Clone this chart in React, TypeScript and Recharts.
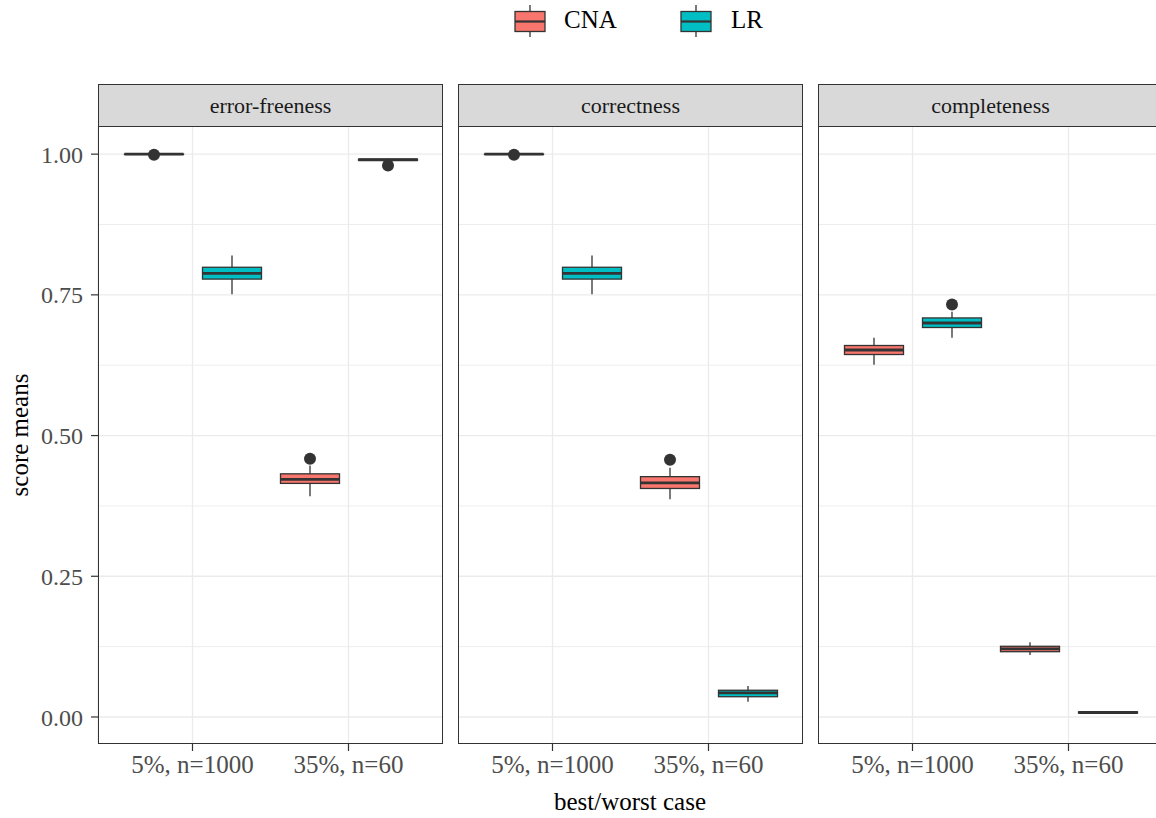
import React from "react";
import { ComposedChart, Bar, XAxis, YAxis, CartesianGrid } from "recharts";

const categories = ["5%, n=1000", "35%, n=60"];
const facets = ["error-freeness", "correctness", "completeness"];
const yTicks = [0, 0.25, 0.5, 0.75, 1];
const yMinorTicks = [0.125, 0.375, 0.625, 0.875];

// each box: [lower whisker, q1, median, q3, upper whisker], one per category
const cnaErrorFreeness = [
  [0.999, 0.9995, 1.0, 1.0, 1.0],
  [0.392, 0.415, 0.422, 0.432, 0.447],
];
const cnaErrorFreenessOut = [[0.999], [0.459]];
const lrErrorFreeness = [
  [0.751, 0.778, 0.788, 0.799, 0.82],
  [0.988, 0.989, 0.99, 0.991, 0.992],
];
const lrErrorFreenessOut = [[], [0.98]];

const cnaCorrectness = [
  [0.999, 0.9995, 1.0, 1.0, 1.0],
  [0.387, 0.406, 0.416, 0.427, 0.443],
];
const cnaCorrectnessOut = [[0.999], [0.457]];
const lrCorrectness = [
  [0.751, 0.778, 0.788, 0.799, 0.82],
  [0.027, 0.036, 0.043, 0.0475, 0.055],
];
const lrCorrectnessOut = [[], []];

const cnaCompleteness = [
  [0.626, 0.644, 0.652, 0.66, 0.674],
  [0.11, 0.116, 0.121, 0.1256, 0.133],
];
const cnaCompletenessOut = [[], []];
const lrCompleteness = [
  [0.674, 0.692, 0.7, 0.709, 0.72],
  [0.006, 0.007, 0.008, 0.009, 0.01],
];
const lrCompletenessOut = [[0.733], []];

const Y_MIN = -0.048;
const Y_MAX = 1.05;
const CNA_COLOR = "#F8766D";
const LR_COLOR = "#00BFC4";
const FONT = "'Liberation Serif', 'DejaVu Serif', serif";

type Stats = number[];
type Row = { category: string; cna: Stats; cnaOut: number[]; lr: Stats; lrOut: number[] };

function buildRows(cna: Stats[], cnaOut: number[][], lr: Stats[], lrOut: number[][]): Row[] {
  return categories.map((c, i) => ({ category: c, cna: cna[i], cnaOut: cnaOut[i], lr: lr[i], lrOut: lrOut[i] }));
}

const panels = [
  buildRows(cnaErrorFreeness, cnaErrorFreenessOut, lrErrorFreeness, lrErrorFreenessOut),
  buildRows(cnaCorrectness, cnaCorrectnessOut, lrCorrectness, lrCorrectnessOut),
  buildRows(cnaCompleteness, cnaCompletenessOut, lrCompleteness, lrCompletenessOut),
];

// the bar spans the whole y domain, so its geometry gives the y scale for the box
function BoxShape(props: any) {
  const { x, y, width, height, payload, series, color } = props;
  if (!payload) return null;
  const [lo, q1, med, q3, hi] = payload[series] as Stats;
  const outs: number[] = payload[series + "Out"] || [];
  const top = Math.min(y, y + height);
  const h = Math.abs(height);
  const py = (v: number) => top + ((Y_MAX - v) / (Y_MAX - Y_MIN)) * h;
  const cx = x + width / 2;
  return (
    <g>
      <line x1={cx} x2={cx} y1={py(hi)} y2={py(lo)} stroke="#333333" strokeWidth={1.3} />
      <rect
        x={x}
        y={py(q3)}
        width={width}
        height={Math.max(py(q1) - py(q3), 0)}
        fill={color}
        stroke="#333333"
        strokeWidth={1.3}
      />
      <line x1={x} x2={x + width} y1={py(med)} y2={py(med)} stroke="#333333" strokeWidth={2.8} />
      {outs.map((o, i) => (
        <circle key={i} cx={cx} cy={py(o)} r={6} fill="#333333" />
      ))}
    </g>
  );
}

const PANEL_W = 345;
const PLOT_H = 618;
const PLOT_TOP = 126;
const panelLefts = [98, 458, 818];

function Panel({ rows, index }: { rows: Row[]; index: number }) {
  const first = index === 0;
  const yw = first ? 98 : 0;
  return (
    <div style={{ position: "absolute", left: panelLefts[index] - yw, top: PLOT_TOP }}>
      <ComposedChart
        width={PANEL_W + yw}
        height={PLOT_H + 60}
        data={rows}
        margin={{ top: 0, right: 0, bottom: 0, left: 0 }}
        barGap={19}
      >
        <CartesianGrid
          horizontalValues={yMinorTicks}
          vertical={false}
          stroke="#EBEBEB"
          strokeWidth={0.9}
        />
        <CartesianGrid horizontalValues={yTicks} stroke="#EBEBEB" strokeWidth={1.3} />
        <XAxis
          dataKey="category"
          type="category"
          height={60}
          padding={{ left: 16.5, right: 16.5 }}
          axisLine={false}
          tickLine={{ stroke: "#333333", strokeWidth: 1.2 }}
          tickSize={7}
          tickMargin={4}
          tick={{ fontSize: 25, fill: "#4D4D4D", fontFamily: FONT }}
          interval={0}
        />
        <YAxis
          type="number"
          domain={[Y_MIN, Y_MAX]}
          ticks={yTicks}
          allowDataOverflow
          hide={!first}
          width={yw}
          axisLine={false}
          tickLine={{ stroke: "#333333", strokeWidth: 1.2 }}
          tickSize={7}
          tickMargin={8}
          tickFormatter={(v: number) => v.toFixed(2)}
          tick={{ fontSize: 24, fill: "#4D4D4D", fontFamily: FONT }}
        />
        <Bar
          dataKey={() => [Y_MIN, Y_MAX]}
          barSize={59}
          isAnimationActive={false}
          shape={(p: any) => <BoxShape {...p} series="cna" color={CNA_COLOR} />}
        />
        <Bar
          dataKey={() => [Y_MIN, Y_MAX]}
          barSize={59}
          isAnimationActive={false}
          shape={(p: any) => <BoxShape {...p} series="lr" color={LR_COLOR} />}
        />
      </ComposedChart>
      <div
        style={{
          position: "absolute",
          left: yw,
          top: 0,
          width: PANEL_W,
          height: PLOT_H,
          border: "1px solid #333333",
          boxSizing: "border-box",
          pointerEvents: "none",
        }}
      />
    </div>
  );
}

function LegendKey({ color }: { color: string }) {
  return (
    <svg width={32} height={36} style={{ display: "block" }}>
      <line x1={16} x2={16} y1={4} y2={36} stroke="#333333" strokeWidth={1.3} />
      <rect x={1} y={10.5} width={30} height={20} fill={color} stroke="#333333" strokeWidth={1.3} />
      <line x1={1} x2={31} y1={20.5} y2={20.5} stroke="#333333" strokeWidth={2.2} />
    </svg>
  );
}

export default function App() {
  return (
    <div
      style={{
        position: "fixed",
        left: 0,
        top: 0,
        width: 1156,
        height: 818,
        overflow: "hidden",
        background: "#FFFFFF",
        fontFamily: FONT,
      }}
    >
      {/* legend */}
      <div style={{ position: "absolute", left: 514, top: 1 }}>
        <LegendKey color={CNA_COLOR} />
      </div>
      <div style={{ position: "absolute", left: 564, top: 5, fontSize: 25, lineHeight: "30px", color: "#000" }}>CNA</div>
      <div style={{ position: "absolute", left: 680, top: 1 }}>
        <LegendKey color={LR_COLOR} />
      </div>
      <div style={{ position: "absolute", left: 731, top: 5, fontSize: 25, lineHeight: "30px", color: "#000" }}>LR</div>

      {/* strips */}
      {facets.map((f, i) => (
        <div
          key={f}
          style={{
            position: "absolute",
            left: panelLefts[i],
            top: 84,
            width: PANEL_W,
            height: 43,
            background: "#D9D9D9",
            border: "1px solid #333333",
            boxSizing: "border-box",
            display: "flex",
            alignItems: "center",
            justifyContent: "center",
            fontSize: 22,
            color: "#1A1A1A",
          }}
        >
          {f}
        </div>
      ))}

      {panels.map((rows, i) => (
        <Panel key={i} rows={rows} index={i} />
      ))}

      {/* axis titles */}
      <div
        style={{
          position: "absolute",
          left: 20,
          top: 435,
          transform: "translate(-50%, -50%) rotate(-90deg)",
          fontSize: 25,
          whiteSpace: "nowrap",
          color: "#000",
        }}
      >
        score means
      </div>
      <div
        style={{
          position: "absolute",
          left: 630,
          top: 802,
          transform: "translate(-50%, -50%)",
          fontSize: 25,
          whiteSpace: "nowrap",
          color: "#000",
        }}
      >
        best/worst case
      </div>
    </div>
  );
}
